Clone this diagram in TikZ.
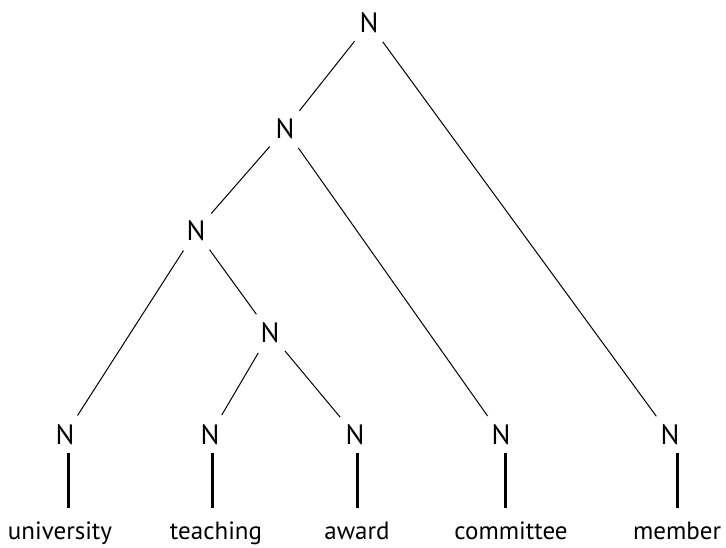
\documentclass[tikz,border=0pt]{standalone}
\usepackage{fontspec}
\setmainfont{PT Sans}
\begin{document}
\begin{tikzpicture}[x=1pt,y=-1pt,
  cat/.style={circle,minimum size=46pt,inner sep=0pt,font=\fontsize{28}{30}\selectfont},
  word/.style={inner sep=0pt,font=\fontsize{25}{28}\selectfont},
  edge/.style={line width=1pt,black},
  leafline/.style={line width=3pt,black}]
\useasboundingbox (0,0) rectangle (726,547);
\node[cat] (r) at (369,23) {N};
\node[cat] (a) at (285,129) {N};
\node[cat] (b) at (196,231) {N};
\node[cat] (c) at (270,333) {N};
\node[cat] (l1) at (65,435) {N};
\node[cat] (l2) at (210,435) {N};
\node[cat] (l3) at (355,435) {N};
\node[cat] (l4) at (501,435) {N};
\node[cat] (l5) at (670,435) {N};
\node[word,anchor=base] (w1) at (60,539) {university};
\node[word,anchor=base] (w2) at (216,539) {teaching};
\node[word,anchor=base] (w3) at (357,539) {award};
\node[word,anchor=base] (w4) at (511,539) {committee};
\node[word,anchor=base] (w5) at (677,539) {member};
\draw[edge] (r) -- (a);
\draw[edge] (r) -- (l5);
\draw[edge] (a) -- (b);
\draw[edge] (a) -- (l4);
\draw[edge] (b) -- (l1);
\draw[edge] (b) -- (c);
\draw[edge] (c) -- (l2);
\draw[edge] (c) -- (l3);
\draw[leafline] ([xshift=3pt,yshift=5pt]l1.south) -- ([xshift=3pt]l1.south |- 0,508);
\draw[leafline] ([xshift=2pt,yshift=5pt]l2.south) -- ([xshift=2pt]l2.south |- 0,508);
\draw[leafline] ([xshift=2pt,yshift=5pt]l3.south) -- ([xshift=2pt]l3.south |- 0,508);
\draw[leafline] ([xshift=4pt,yshift=5pt]l4.south) -- ([xshift=4pt]l4.south |- 0,508);
\draw[leafline] ([xshift=7pt,yshift=5pt]l5.south) -- ([xshift=7pt]l5.south |- 0,508);
\end{tikzpicture}
\end{document}
